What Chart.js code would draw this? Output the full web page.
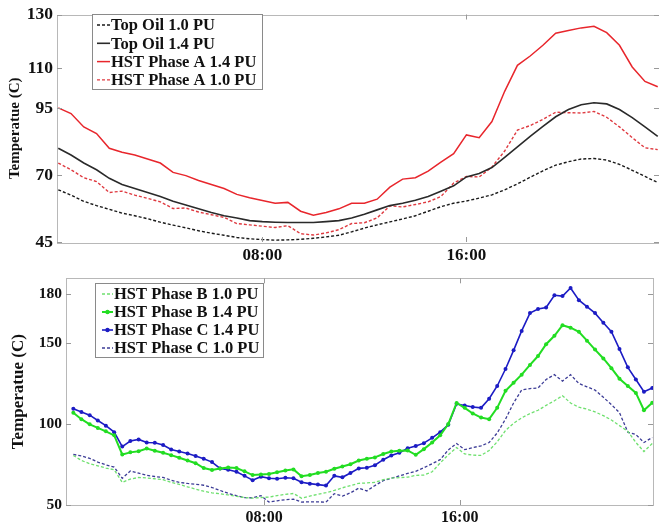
<!DOCTYPE html>
<html>
<head>
<meta charset="utf-8">
<script src="https://cdn.jsdelivr.net/npm/chart.js"></script>
<style>
  body { margin: 0; background: #fff; }
  #wrap { position: relative; width: 659px; height: 529px; overflow: hidden; background: #fff; }
  .panel { position: absolute; left: 0; width: 659px; height: 264px; }
  #p1 { top: 0; }
  #p2 { top: 265px; }
</style>
</head>
<body>
<div id="wrap">
  <div class="panel" id="p1"><canvas id="c1" width="659" height="264"></canvas></div>
  <div class="panel" id="p2"><canvas id="c2" width="659" height="264"></canvas></div>
</div>
<script>
// ---- data: top panel (half-hour readings) ----
const topHours = [0, 0.5, 1, 1.5, 2, 2.5, 3, 3.5, 4, 4.5, 5, 5.5, 6, 6.5, 7, 7.5, 8, 8.5, 9, 9.5, 10, 10.5, 11, 11.5,
  12, 12.5, 13, 13.5, 14, 14.5, 15, 15.5, 16, 16.5, 17, 17.5, 18, 18.5, 19, 19.5, 20, 20.5, 21, 21.5, 22, 22.5, 23, 23.5];
const topOil10 = [64.5, 62.5, 60.2, 58.6, 57.2, 55.8, 54.8, 53.7, 52.4, 51.3, 50.3, 49.2, 48.3, 47.5, 46.7, 46.2, 45.9, 45.7, 45.8, 46, 46.4, 46.9, 47.5, 48.8,
  50.2, 51.4, 52.5, 53.6, 54.8, 56.5, 58.2, 59.5, 60.3, 61.4, 62.6, 64.5, 66.7, 69.2, 71.6, 73.7, 75, 76, 76.2, 75.6, 74, 71.8, 69.5, 67.2];
const topOil14 = [80, 77.5, 74.5, 72, 68.8, 66.5, 65, 63.5, 62, 60.2, 58.8, 57.4, 56, 54.8, 54, 53, 52.6, 52.4, 52.3, 52.3, 52.3, 52.6, 53, 54,
  55.4, 57, 58.6, 59.5, 60.6, 62, 64, 66, 69.3, 70.6, 72.8, 76.6, 80.5, 84.5, 88.2, 91.8, 94.5, 96.3, 97, 96.6, 94.5, 91.5, 88, 84.5];
const hstA14 = [95.1, 93, 88, 85.5, 80, 78.5, 77.5, 76, 74.5, 71, 69.8, 68, 66.5, 65, 62.8, 61.5, 60.5, 59.5, 59.8, 56.5, 55, 56, 57.4, 59.5,
  59.5, 61, 65.5, 68.5, 69, 71.5, 74.8, 78, 85, 84, 90, 101.3, 111, 114.5, 118.5, 123, 124, 125, 125.6, 123.2, 118.5, 110.4, 105, 103];
const hstA10 = [74.5, 72, 69, 67.6, 63.5, 64, 62.5, 61.3, 60, 57.5, 57.7, 56.2, 55.2, 54.2, 51.9, 51.4, 50.9, 50.4, 51.1, 48.1, 47.6, 48.4, 49.6, 51.9,
  52.2, 54, 58.5, 58.1, 59, 60, 62, 67, 69.5, 69.3, 73, 79, 86.8, 88.5, 90.8, 93.5, 93.3, 93.2, 93.8, 91.6, 88, 84, 80.2, 79.5];
const topYTicks = [45, 70, 95, 110, 130];

// ---- data: bottom panel (20-minute readings) ----
const botHours = [0.2, 0.53, 0.87, 1.2, 1.53, 1.87, 2.2, 2.53, 2.87, 3.2, 3.53, 3.87, 4.2, 4.53, 4.87, 5.2, 5.53, 5.87,
  6.2, 6.53, 6.87, 7.2, 7.53, 7.87, 8.2, 8.53, 8.87, 9.2, 9.53, 9.87, 10.2, 10.53, 10.87, 11.2, 11.53, 11.87,
  12.2, 12.53, 12.87, 13.2, 13.53, 13.87, 14.2, 14.53, 14.87, 15.2, 15.53, 15.87, 16.2, 16.53, 16.87, 17.2, 17.53, 17.87,
  18.2, 18.53, 18.87, 19.2, 19.53, 19.87, 20.2, 20.53, 20.87, 21.2, 21.53, 21.87, 22.2, 22.53, 22.87, 23.2, 23.53, 23.87];
const hstB10 = [80.6, 77.5, 75.5, 74.2, 72.8, 71.8, 64, 66, 67, 66.7, 66.2, 65.6, 64, 62.8, 61.2, 59.8, 58.5, 57.5,
  57, 56.2, 55.3, 54.6, 54.2, 54.6, 54.9, 55.8, 56.6, 57.1, 54.2, 55.5, 56.6, 57.6, 59, 60.6, 62, 63.4,
  63.6, 64, 65.6, 66.6, 66.9, 67.2, 68.3, 68.5, 70.5, 76, 81, 85.5, 81.5, 80.8, 80.6, 83.7, 89, 96,
  100.5, 103.8, 106.5, 108.5, 111.5, 114.4, 117.5, 113, 110.4, 109.2, 107.5, 105.2, 102.5, 99, 95.5, 88.6, 83, 88];
const hstB14 = [107, 103, 99.8, 97.6, 95.5, 93, 81.2, 82.5, 83.2, 84.9, 83.5, 82.3, 80.8, 79.2, 77.5, 75.8, 72.8, 71.6,
  72.5, 73.2, 72.8, 70.8, 68.5, 68.8, 69.2, 70.2, 71.3, 72, 67.8, 68.5, 69.7, 70.5, 72.4, 73.8, 75.2, 77.5,
  78.5, 79.4, 81.5, 83, 83.5, 83.7, 81, 84.5, 88.6, 93, 100, 113, 110, 106.5, 104, 103, 110, 120.5,
  125.5, 130.5, 136.5, 142, 149.3, 154.5, 161, 159.5, 157, 151.5, 146, 140.5, 134.5, 128, 123.5, 119.2, 108.5, 113.1];
const hstC14 = [109.4, 107.5, 105.5, 102.2, 99, 95, 86.1, 89.5, 90.5, 88.6, 88.4, 87, 84.3, 83, 81.8, 80.3, 78.5, 76.5,
  72.6, 71.8, 70.5, 68, 65.3, 67.5, 66.5, 66.2, 66.8, 66.5, 64, 63.2, 62.6, 62, 68, 67.1, 69.8, 72.6,
  73, 74.6, 78, 80.5, 82.2, 85, 86.4, 88.2, 91.5, 95, 99.5, 112.5, 111.5, 110.5, 110, 115.6, 123.5, 134,
  145.5, 157.5, 168.5, 171, 172, 179.5, 179, 184, 176.5, 172.5, 168.5, 162.5, 157, 146.3, 135, 127.5, 120, 122.3];
const hstC10 = [81.2, 80.3, 78.8, 76.5, 74.8, 73.4, 66.5, 71, 69.7, 68.3, 67.6, 67, 65.3, 64, 63.3, 62.8, 62.2, 60.8,
  59, 57.2, 55.8, 54.6, 54.4, 55.8, 51.8, 52.6, 53.3, 53.6, 51.8, 52, 51.9, 51.8, 57, 55.5, 57.5, 60.4,
  58.7, 62, 65, 66.5, 68, 69.5, 70.8, 73, 75.5, 78, 84, 88, 84.2, 85.5, 86.5, 88.6, 94.5, 103,
  113, 121, 121.9, 122.3, 127.5, 130.5, 126.5, 130.5, 125, 123, 121, 116.5, 112, 107, 95, 93.5, 88.6, 91.7];
const botYTicks = [50, 100, 150, 180];

const hourTicks = [8, 16];

const serif = '"Liberation Serif", "Times New Roman", serif';

function pts(hours, vals) {
  return hours.map((h, i) => ({ x: h, y: vals[i] }));
}

// box border + inward tick marks, like a matlab axes box
const framePlugin = {
  id: 'frame',
  afterDatasetsDraw(chart) {
    const { ctx, chartArea: a, scales } = chart;
    ctx.save();
    ctx.strokeStyle = '#b8b8b8';
    ctx.lineWidth = 1;
    ctx.strokeRect(Math.round(a.left) + 0.5, Math.round(a.top) + 0.5,
      Math.round(a.right - a.left), Math.round(a.bottom - a.top));
    ctx.strokeStyle = '#999';
    scales.y.ticks.forEach(t => {
      const y = Math.round(scales.y.getPixelForValue(t.value)) + 0.5;
      ctx.beginPath();
      ctx.moveTo(a.left, y); ctx.lineTo(a.left + 5, y);
      ctx.moveTo(a.right, y); ctx.lineTo(a.right - 5, y);
      ctx.stroke();
    });
    scales.x.ticks.forEach(t => {
      const x = Math.round(scales.x.getPixelForValue(t.value)) + 0.5;
      ctx.beginPath();
      ctx.moveTo(x, a.bottom); ctx.lineTo(x, a.bottom - 5);
      ctx.moveTo(x, a.top); ctx.lineTo(x, a.top + 5);
      ctx.stroke();
    });
    ctx.restore();
  }
};

// legend drawn inside the plot, boxed
const boxLegend = {
  id: 'boxLegend',
  afterDraw(chart, args, opts) {
    const { ctx } = chart;
    const b = opts.box;
    ctx.save();
    ctx.fillStyle = '#fff';
    ctx.fillRect(b.x, b.y, b.w, b.h);
    ctx.strokeStyle = '#8a8a8a';
    ctx.lineWidth = 1;
    ctx.strokeRect(b.x + 0.5, b.y + 0.5, b.w, b.h);
    ctx.font = 'bold 16.5px ' + serif;
    ctx.textBaseline = 'middle';
    chart.data.datasets.forEach((ds, i) => {
      const y = b.y + opts.rowTop + i * opts.rowGap;
      ctx.strokeStyle = ds.borderColor;
      ctx.lineWidth = ds.borderWidth;
      ctx.setLineDash(ds.borderDash || []);
      ctx.beginPath();
      ctx.moveTo(b.x + opts.lineX0, y);
      ctx.lineTo(b.x + opts.lineX1, y);
      ctx.stroke();
      ctx.setLineDash([]);
      if (ds.pointRadius > 0) {
        ctx.fillStyle = ds.borderColor;
        ctx.beginPath();
        ctx.arc(b.x + (opts.lineX0 + opts.lineX1) / 2, y, 2.2, 0, Math.PI * 2);
        ctx.fill();
      }
      ctx.fillStyle = '#111';
      ctx.fillText(ds.label, b.x + opts.lineX1 + 1, y + 1);
    });
    ctx.restore();
  }
};

function hourLabel(v) {
  return String(v).padStart(2, '0') + ':00';
}

function makeOptions(cfg) {
  return {
    responsive: false,
    animation: false,
    layout: { padding: cfg.padding },
    plugins: {
      legend: { display: false },
      tooltip: { enabled: false },
      boxLegend: cfg.legend
    },
    scales: {
      x: {
        type: 'linear',
        min: cfg.xMin,
        max: cfg.xMax,
        grid: { display: false, drawTicks: false },
        border: { display: false },
        afterBuildTicks: s => { s.ticks = hourTicks.map(v => ({ value: v })); },
        afterFit: s => { s.height = cfg.xHeight; },
        ticks: {
          padding: 3,
          color: '#111',
          maxRotation: 0,
          font: { family: serif, weight: 'bold', size: cfg.xFont },
          callback: v => hourLabel(v)
        }
      },
      y: {
        min: cfg.yMin,
        max: cfg.yMax,
        grid: { display: false, drawTicks: false },
        border: { display: false },
        afterBuildTicks: s => { s.ticks = cfg.yTicks.map(v => ({ value: v })); },
        afterFit: s => { s.width = cfg.yWidth; },
        ticks: {
          padding: cfg.yTickPad,
          color: '#111',
          font: { family: serif, weight: 'bold', size: cfg.yFont }
        },
        title: {
          display: true,
          text: 'Temperatue (C)',
          color: '#111',
          padding: { top: cfg.titlePad, bottom: 0 },
          font: { family: serif, weight: 'bold', size: cfg.titleFont }
        }
      }
    }
  };
}

new Chart(document.getElementById('c1'), {
  type: 'line',
  data: {
    datasets: [
      { label: 'Top Oil 1.0 PU', data: pts(topHours, topOil10), borderColor: '#1a1a1a', borderWidth: 1.4, borderDash: [3, 2], pointRadius: 0 },
      { label: 'Top Oil 1.4 PU', data: pts(topHours, topOil14), borderColor: '#2a2a2a', borderWidth: 1.6, pointRadius: 0 },
      { label: 'HST Phase A 1.4 PU', data: pts(topHours, hstA14), borderColor: '#e8262c', borderWidth: 1.5, pointRadius: 0 },
      { label: 'HST Phase A 1.0 PU', data: pts(topHours, hstA10), borderColor: '#df3a40', borderWidth: 1.4, borderDash: [3, 2], pointRadius: 0 }
    ]
  },
  options: makeOptions({
    padding: { top: 8, right: 0, left: 0, bottom: 0 },
    xMin: -0.05, xMax: 23.55, xHeight: 22, xFont: 17,
    yMin: 45, yMax: 130, yTicks: topYTicks, yWidth: 57, yTickPad: 4, yFont: 17.5,
    titlePad: 6, titleFont: 15,
    legend: { box: { x: 92, y: 14, w: 170, h: 75 }, rowTop: 11, rowGap: 18.3, lineX0: 5, lineX1: 18 }
  }),
  plugins: [framePlugin, boxLegend]
});

new Chart(document.getElementById('c2'), {
  type: 'line',
  data: {
    datasets: [
      { label: 'HST Phase B 1.0 PU', data: pts(botHours, hstB10), borderColor: '#6fe06f', borderWidth: 1.3, borderDash: [3, 2], pointRadius: 0 },
      { label: 'HST Phase B 1.4 PU', data: pts(botHours, hstB14), borderColor: '#22dd22', borderWidth: 2, pointRadius: 2, pointBackgroundColor: '#22dd22', pointBorderWidth: 0 },
      { label: 'HST Phase C 1.4 PU', data: pts(botHours, hstC14), borderColor: '#1c1cc4', borderWidth: 1.6, pointRadius: 2, pointBackgroundColor: '#1c1cc4', pointBorderWidth: 0 },
      { label: 'HST Phase C 1.0 PU', data: pts(botHours, hstC10), borderColor: '#3c3c96', borderWidth: 1.3, borderDash: [3, 2], pointRadius: 0 }
    ]
  },
  options: makeOptions({
    padding: { top: 12, right: 6, left: 0, bottom: 0 },
    xMin: -0.1, xMax: 23.9, xHeight: 24, xFont: 16,
    yMin: 50, yMax: 190, yTicks: botYTicks, yWidth: 66, yTickPad: 4, yFont: 15.5,
    titlePad: 8, titleFont: 17,
    legend: { box: { x: 95, y: 18, w: 168, h: 74 }, rowTop: 11, rowGap: 18, lineX0: 7, lineX1: 18 }
  }),
  plugins: [framePlugin, boxLegend]
});
</script>
</body>
</html>
